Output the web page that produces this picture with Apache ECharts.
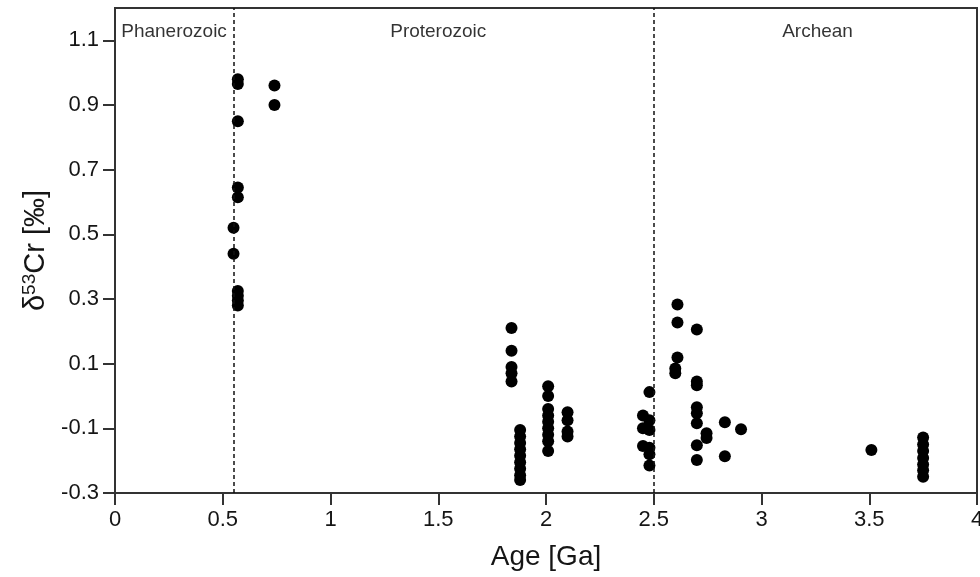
<!DOCTYPE html>
<html><head><meta charset="utf-8">
<script src="https://cdn.jsdelivr.net/npm/echarts@6/dist/echarts.min.js"></script>
<style>html,body{margin:0;padding:0;background:#fff}#c{width:980px;height:577px}</style>
</head><body><div id="c"></div>
<script>
// Ages (Ga) of each sample group and their δ53Cr values (‰)
var groupAges = [0.57, 0.55, 0.74, 1.84, 1.88, 2.01, 2.10, 2.45, 2.48, 2.60, 2.61, 2.70, 2.745, 2.83, 2.905, 3.51, 3.75];
var groupValues = [
  [0.98, 0.965, 0.85, 0.645, 0.615, 0.325, 0.31, 0.295, 0.28],
  [0.52, 0.44],
  [0.96, 0.90],
  [0.21, 0.14, 0.09, 0.07, 0.045],
  [-0.105, -0.125, -0.145, -0.165, -0.185, -0.205, -0.225, -0.245, -0.26],
  [0.03, 0.0, -0.04, -0.06, -0.08, -0.10, -0.12, -0.14, -0.17],
  [-0.05, -0.075, -0.11, -0.125],
  [-0.06, -0.10, -0.155],
  [0.012, -0.075, -0.105, -0.16, -0.18, -0.215],
  [0.085, 0.07],
  [0.283, 0.227, 0.119],
  [0.206, 0.045, 0.033, -0.035, -0.053, -0.084, -0.152, -0.198],
  [-0.115, -0.13],
  [-0.081, -0.186],
  [-0.103],
  [-0.167],
  [-0.128, -0.15, -0.17, -0.192, -0.212, -0.23, -0.25]
];
var yTicks = [-0.3, -0.1, 0.1, 0.3, 0.5, 0.7, 0.9, 1.1];
var xTicks = [0, 0.5, 1, 1.5, 2, 2.5, 3, 3.5, 4];
var boundaries = [0.55, 2.5];
var eraNames = ['Phanerozoic', 'Proterozoic', 'Archean'];
var eraCenters = [0.274, 1.5, 3.26];
var eraLabelY = 1.125;

var pts = [];
groupAges.forEach(function (a, i) { groupValues[i].forEach(function (v) { pts.push([a, v]); }); });

var chart = echarts.init(document.getElementById('c'), null, {renderer: 'canvas'});
var font = '"Liberation Sans", Arial, sans-serif';
var ink = '#151515';
chart.setOption({
  animation: false,
  grid: {left: 115, right: 3, top: 8, bottom: 84, containLabel: false, outerBoundsMode: 'none',
    show: true, borderColor: '#333', borderWidth: 2, backgroundColor: 'transparent'},
  xAxis: {
    type: 'value', min: 0, max: 4, interval: 0.5,
    name: 'Age [Ga]', nameLocation: 'middle', nameGap: 50,
    nameTextStyle: {fontSize: 28, color: ink, fontFamily: font},
    axisLine: {onZero: false, lineStyle: {color: '#333', width: 2}},
    axisTick: {show: true, length: 12, customValues: xTicks, lineStyle: {color: '#333', width: 2}},
    axisLabel: {fontSize: 22, color: ink, fontFamily: font, margin: 16, customValues: xTicks,
      formatter: function (v) { return String(v); }},
    splitLine: {show: false}
  },
  yAxis: {
    type: 'value', min: -0.3, max: 1.2,
    name: 'δ{sup|53}Cr [‰]', nameLocation: 'middle', nameGap: 62, nameRotate: 90,
    nameTextStyle: {fontSize: 29, color: ink, fontFamily: font,
      rich: {sup: {fontSize: 19, color: ink, fontFamily: font, verticalAlign: 'top', padding: [0, 0, 12, 0]}}},
    axisLine: {onZero: false, lineStyle: {color: '#333', width: 2}},
    axisTick: {show: true, length: 12, customValues: yTicks, lineStyle: {color: '#333', width: 2}},
    axisLabel: {fontSize: 22, color: ink, fontFamily: font, margin: 16, customValues: yTicks,
      formatter: function (v) { return v.toFixed(1); }},
    splitLine: {show: false}
  },
  series: [
    {
      type: 'scatter', data: pts, symbol: 'circle', symbolSize: 12,
      itemStyle: {color: '#000', opacity: 1},
      markLine: {
        silent: true, symbol: ['none', 'none'],
        label: {show: false},
        lineStyle: {color: '#111', type: [4, 3], width: 1.5},
        data: boundaries.map(function (b) { return {xAxis: b}; })
      }
    },
    {
      type: 'scatter', symbolSize: 0, silent: true,
      itemStyle: {color: '#000'},
      data: eraNames.map(function (n, i) { return {value: [eraCenters[i], eraLabelY], name: n}; }),
      label: {show: true, position: 'inside', formatter: '{b}', fontSize: 19, color: '#000',
        textBorderWidth: 0, textBorderColor: 'transparent', fontFamily: font}
    }
  ]
});
</script></body></html>
